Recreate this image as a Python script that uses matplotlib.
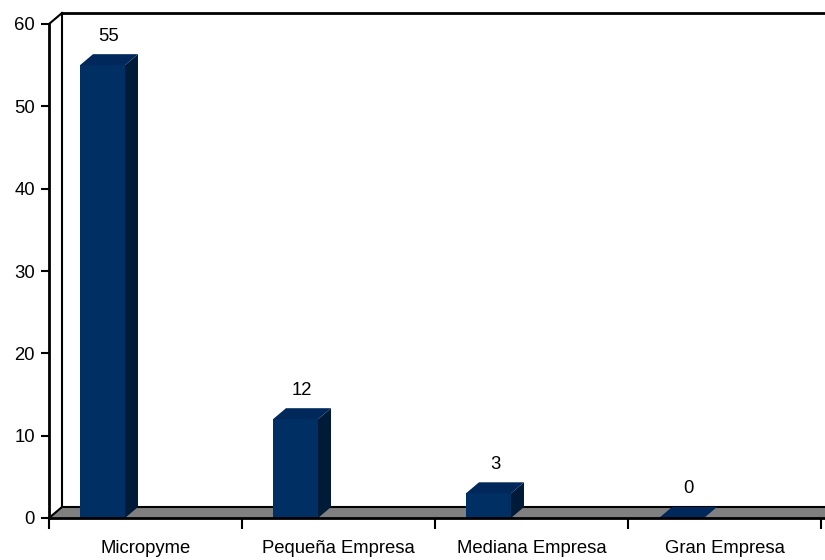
import matplotlib
matplotlib.use("Agg")
import matplotlib.pyplot as plt
from matplotlib.patches import Polygon

categories = ["Micropyme", "Pequeña Empresa", "Mediana Empresa", "Gran Empresa"]
values = [55, 12, 3, 0]
y_ticks = [0, 10, 20, 30, 40, 50, 60]

plt.rcParams["font.family"] = ["Liberation Sans", "DejaVu Sans"]
fs = 13.3

W, H = 825, 560
fig = plt.figure(figsize=(W / 100, H / 100), dpi=100)

# front plane of the 3-D box, in pixels
x0_px, x1_px = 49, 825
cat_px = 193.0
y0_px, y60_px = 518, 24
ax = fig.add_axes([x0_px / W, (H - y0_px) / H, (x1_px - x0_px) / W, (y0_px - y60_px) / H])
xmax = (x1_px - x0_px) / cat_px
ax.set_xlim(0, xmax)
ax.set_ylim(0, 60)

# depth of the box expressed in data units
px_per_unit = (y0_px - y60_px) / 60.0
ddx = 13 / cat_px
ddy = 11 / px_per_unit

front_c = "#003063"
top_c = "#00285a"
side_c = "#001b38"
floor_c = "#808080"

# floor
floor = Polygon([(0, 0), (xmax + 1, 0), (xmax + 1 + ddx, ddy), (ddx, ddy)],
                closed=True, facecolor=floor_c, edgecolor="none", clip_on=False, zorder=1)
ax.add_patch(floor)
ax.plot([ddx, xmax + 1], [ddy, ddy], color="black", lw=1.5, clip_on=False, zorder=2)
ax.plot([0, ddx], [0, ddy], color="black", lw=1.5, clip_on=False, zorder=2)

# back and left walls
ax.plot([ddx, ddx], [ddy, 60 + ddy], color="black", lw=1.5, clip_on=False, zorder=2)
ax.plot([ddx, xmax + 1], [60 + ddy, 60 + ddy], color="black", lw=2, clip_on=False, zorder=2)
ax.plot([0, ddx], [60, 60 + ddy], color="black", lw=1.5, clip_on=False, zorder=2)

# bars
bar_off = 31 / cat_px
bar_w = 45 / cat_px
for i, v in enumerate(values):
    xl = i + bar_off
    xr = xl + bar_w
    if v > 0:
        ax.add_patch(Polygon([(xl, 0), (xr, 0), (xr, v), (xl, v)], closed=True,
                             facecolor=front_c, edgecolor="none", zorder=3, clip_on=False))
        ax.add_patch(Polygon([(xr, 0), (xr + ddx, ddy), (xr + ddx, v + ddy), (xr, v)], closed=True,
                             facecolor=side_c, edgecolor="none", zorder=3, clip_on=False))
    ax.add_patch(Polygon([(xl, v), (xr, v), (xr + ddx, v + ddy), (xl + ddx, v + ddy)], closed=True,
                         facecolor=top_c, edgecolor="none", zorder=3, clip_on=False))
    ax.annotate(str(v), xy=(xl + bar_w / 2 + ddx / 2, v + ddy), xytext=(0, 13),
                textcoords="offset points", ha="center", va="center", fontsize=fs,
                annotation_clip=False)

# axes styling
for s in ["top", "right"]:
    ax.spines[s].set_visible(False)
ax.spines["left"].set_linewidth(2)
ax.spines["bottom"].set_linewidth(2)
ax.spines["left"].set_zorder(4)
ax.spines["bottom"].set_zorder(4)
ax.set_facecolor("none")

ax.set_yticks(y_ticks)
ax.set_yticklabels([str(t) for t in y_ticks], fontsize=fs)
ax.tick_params(axis="y", direction="out", length=6, width=1.5, pad=4)

ax.set_xticks(range(len(categories) + 1))
ax.set_xticklabels([])
ax.set_xticks([i + 0.5 for i in range(len(categories))], minor=True)
ax.set_xticklabels(categories, minor=True, fontsize=fs)
ax.tick_params(axis="x", which="major", direction="out", length=8, width=1.5)
ax.tick_params(axis="x", which="minor", length=0, pad=16)

fig.savefig("out.png", dpi=100)
